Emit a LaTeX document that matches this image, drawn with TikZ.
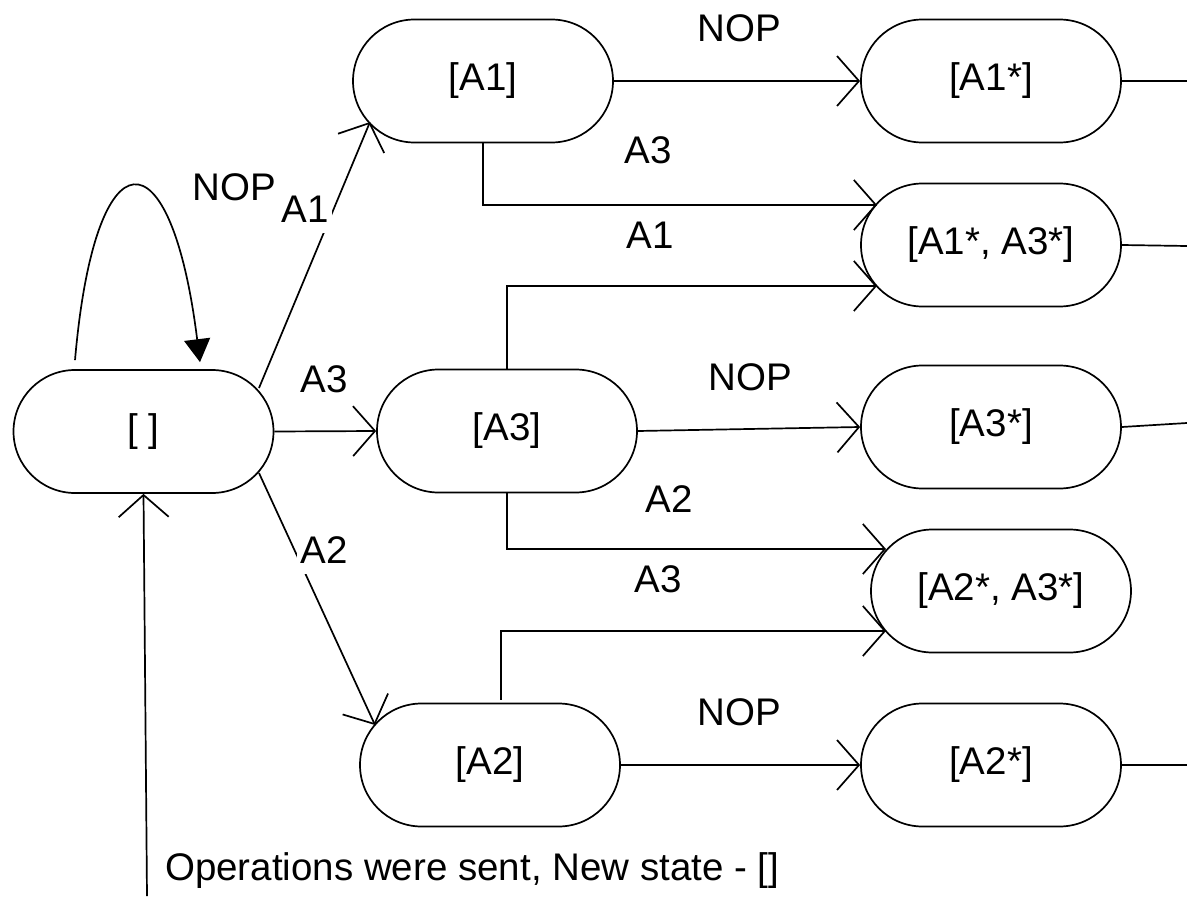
\documentclass[tikz,border=0pt]{standalone}
\usepackage{fontspec}
\setmainfont{Liberation Sans}
\usetikzlibrary{arrows.meta,shapes.misc}
\begin{document}
\begin{tikzpicture}[x=1pt,y=-1pt,
  state/.style={draw, line width=1.7pt, rounded rectangle, minimum width=260pt, minimum height=123pt, inner sep=0pt, font=\fontsize{38.5}{46}\selectfont},
  lbl/.style={inner sep=0pt, anchor=base, font=\fontsize{38.5}{46}\selectfont},
  lblw/.style={lbl, fill=white, inner sep=3pt, text depth=8pt},
  conn/.style={line width=1.7pt, -{Straight Barb[length=22pt,width=50pt]}},
  plain/.style={line width=1.7pt}]
\useasboundingbox (0,0) rectangle (1187,899);

% states
\node[state] (E)   at (143.5,431.5) {[ ]};
\node[state] (A1)  at (483,81)  {[A1]};
\node[state] (A1s) at (991,81)  {[A1*]};
\node[state] (A13) at (991,245) {[A1*, A3*]};
\node[state] (A3)  at (507,431) {[A3]};
\node[state] (A3s) at (991,427) {[A3*]};
\node[state] (A23) at (1001,591) {[A2*, A3*]};
\node[state] (A2)  at (490,765) {[A2]};
\node[state] (A2s) at (991,765) {[A2*]};

% free ends
\coordinate (X1) at (1187,81);
\coordinate (X13) at (1187,246);
\coordinate (X3) at (1187,423);
\coordinate (X2) at (1187,765);
\coordinate (B) at (147,896);

% self loop
\draw[line width=1.7pt, -{Triangle[length=23pt,width=26pt]}]
  ([shift={(-68.5,-9)}]E.north) .. controls ([shift={(-48.5,-240)}]E.north) and ([shift={(27.5,-240)}]E.north) .. ([shift={(56.5,-7)}]E.north);
\node[lbl] (lnop) at (234,200) {NOP};

% from []
\draw[conn] ([shift={(115.5,-43.5)}]E.center) -- ([shift={(-113,41)}]A1.center);
\draw[conn] (E.east) -- (A3.west);
\draw[conn] ([shift={(115.5,41.5)}]E.center) -- ([shift={(-115,-40)}]A2.center);
\node[lblw] (la1) at (305,222) {A1};
\node[lbl] (la3) at (324,392) {A3};
\node[lblw] (la2) at (324,563) {A2};

% from [A1]
\draw[conn] (A1.east) -- (A1s.west);
\draw[conn] (A1.south) |- ([shift={(-114,-40)}]A13.center);
\node[lbl] (n1) at (739,42) {NOP};
\node[lbl] (n2) at (648,163) {A3};

% from [A3]
\draw[conn] (A3.north) |- ([shift={(-114,41)}]A13.center);
\draw[conn] (A3.east) -- (A3s.west);
\draw[conn] (A3.south) |- ([shift={(-115,-42)}]A23.center);
\node[lbl] (n3) at (650,248) {A1};
\node[lbl] (n4) at (750,390) {NOP};
\node[lbl] (n5) at (669,512) {A2};

% from [A2]
\draw[conn] ([shift={(11,-3)}]A2.north) |- ([shift={(-115,40)}]A23.center);
\draw[conn] (A2.east) -- (A2s.west);
\node[lbl] (n6) at (658,592) {A3};
\node[lbl] (n7) at (739,725) {NOP};

% exits
\draw[plain] (A1s.east) -- (X1);
\draw[plain] (A13.east) -- (X13);
\draw[plain] (A3s.east) -- (X3);
\draw[plain] (A2s.east) -- (X2);

% return
\draw[conn] (B) -- (E.south);
\node[lbl, anchor=base west] (cap) at (165,880) {Operations were sent, New state - []};
\end{tikzpicture}
\end{document}
